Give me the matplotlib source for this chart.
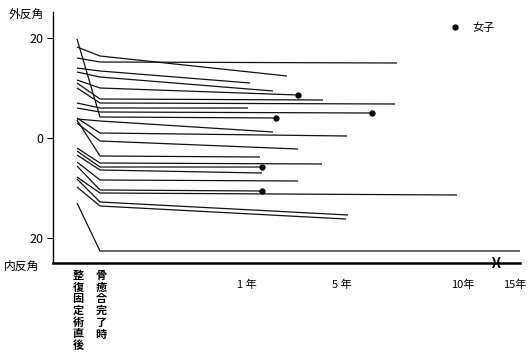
import matplotlib.pyplot as plt
from matplotlib.lines import Line2D

plt.rcParams['font.family'] = ['Noto Sans CJK JP', 'DejaVu Sans']

# x position on the chart's (non-linear) follow-up axis
x_fix = 24      # 整復固定術直後
x_union = 47    # 骨癒合完了時

# angle in degrees, + = 外反 (valgus), - = 内反 (varus)
start_deg = [18.2, 16.0, 14.0, 13.2, 11.6, 11.0, 10.0, 7.0, 6.0, 19.8, 3.8, 4.0, 3.0,
             3.6, -2.0, -2.6, -3.4, -4.8, -5.6, -7.8, -8.2, -9.8, -13.0]
union_deg = [16.4, 15.2, 13.4, 12.2, 10.0, 7.8, 7.0, 6.0, 5.2, 4.2, 3.4, 1.0, -0.6,
             -3.6, -5.0, -5.8, -6.4, -8.4, -10.4, -11.0, -12.8, -13.6, -22.6]
last_x = [234, 344, 197, 220, 245, 270, 342, 195, 319, 223, 220, 294, 245,
          207, 269, 209, 209, 245, 209, 404, 295, 293, 467]
last_deg = [12.4, 15.0, 11.0, 9.4, 8.6, 7.6, 6.8, 6.0, 5.0, 4.0, 1.2, 0.4, -2.2,
            -3.8, -5.2, -5.8, -7.0, -8.6, -10.6, -11.4, -15.4, -16.2, -22.6]
female = [0, 0, 0, 0, 1, 0, 0, 0, 1, 1, 0, 0, 0,
          0, 0, 1, 0, 0, 1, 0, 0, 0, 0]

year_pos = [194, 289, 410, 462]
year_labels = ['1 年', '5 年', '10年', '15年']

fig = plt.figure(figsize=(5.28, 3.59), dpi=100)
ax = fig.add_axes([53/528, 96/359, 467/528, 251/359])

for i in range(len(start_deg)):
    ax.plot([x_fix, x_union, last_x[i]], [start_deg[i], union_deg[i], last_deg[i]],
            color='#111111', lw=0.9, solid_capstyle='butt')
    if female[i]:
        ax.plot(last_x[i], last_deg[i], 'o', color='k', ms=3.5)

ax.set_xlim(0, 467)
ax.set_ylim(-25, 25.2)
ax.spines['top'].set_visible(False)
ax.spines['right'].set_visible(False)
ax.spines['left'].set_linewidth(1.0)
ax.spines['bottom'].set_linewidth(1.8)

ax.set_yticks([20, 0, -20])
ax.set_yticklabels(['20', '0', '20'], fontsize=9)
ax.tick_params(axis='y', length=4, width=0.8, pad=3)
ax.set_xticks(year_pos)
ax.set_xticklabels(year_labels, fontsize=8)
ax.tick_params(axis='x', length=0, pad=12)

# axis break mark
ax.text(444, -25, ')(', ha='center', va='center', fontsize=9, fontweight='bold',
        family='DejaVu Sans', clip_on=False)

fig.text(9/528, 1 - 14/359, '外反角', fontsize=8.5, va='center', ha='left')
fig.text(4/528, 1 - 266/359, '内反角', fontsize=8.5, va='center', ha='left')

fig.text(78/528, 1 - 269/359, '\n'.join('整復固定術直後'), fontsize=8, va='top', ha='center',
         linespacing=0.87, fontweight='bold')
fig.text(101/528, 1 - 269/359, '\n'.join('骨癒合完了時'), fontsize=8, va='top', ha='center',
         linespacing=0.87, fontweight='bold')

handle = Line2D([], [], marker='o', ls='none', color='k', ms=3.5, label='女子')
ax.legend(handles=[handle], loc='upper left', bbox_to_anchor=(385/467, 0.98),
          frameon=False, fontsize=8, handletextpad=0.6, borderpad=0)

fig.savefig('out.png', dpi=100)
